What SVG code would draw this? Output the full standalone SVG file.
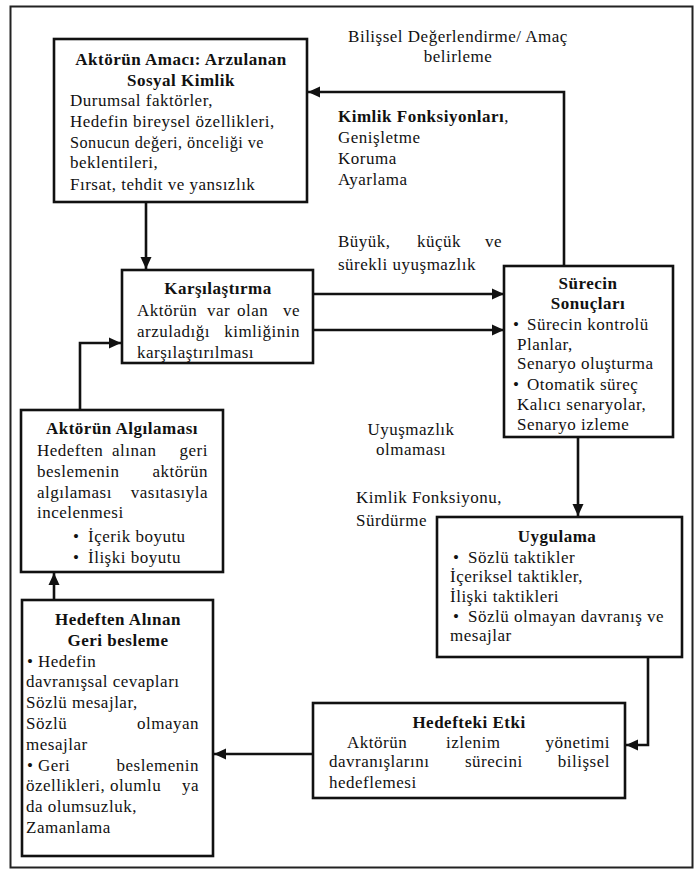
<svg xmlns="http://www.w3.org/2000/svg" width="696" height="869" viewBox="0 0 696 869">
<style>
.t{font-family:'Liberation Serif','Times New Roman',Tinos,'DejaVu Serif',serif;font-size:17px;letter-spacing:0.5px;fill:#111}
.b{font-weight:bold}
.c{text-anchor:middle}
.e{text-anchor:end}
.box{fill:#fff;stroke:#111;stroke-width:2.6}
.ln{fill:none;stroke:#111;stroke-width:2.6}
</style>
<defs>
<marker id="ah" markerUnits="userSpaceOnUse" markerWidth="13" markerHeight="13" refX="12" refY="6" orient="auto">
<path d="M0,0.5 L12,6 L0,11.5 z" fill="#111"/>
</marker>
</defs>
<rect x="0" y="0" width="696" height="869" fill="#fff"/>
<rect x="10.5" y="6.5" width="682" height="861" fill="none" stroke="#222" stroke-width="2"/>

<g id="connectors">
<path class="ln" d="M564,266 V92 H308" marker-end="url(#ah)"/>
<path class="ln" d="M146,202 V269" marker-end="url(#ah)"/>
<path class="ln" d="M313,294 H504" marker-end="url(#ah)"/>
<path class="ln" d="M313,330 H504" marker-end="url(#ah)"/>
<path class="ln" d="M80,410 V343 H121" marker-end="url(#ah)"/>
<path class="ln" d="M54,600 V573" marker-end="url(#ah)"/>
<path class="ln" d="M578,437 V516" marker-end="url(#ah)"/>
<path class="ln" d="M648,657 V745 H626" marker-end="url(#ah)"/>
<path class="ln" d="M313,754 H214" marker-end="url(#ah)"/>
</g>

<g id="labels">
<text class="t c" x="458" y="42">Bilişsel Değerlendirme/ Amaç</text>
<text class="t c" x="458" y="62">belirleme</text>
<text class="t" x="338" y="122"><tspan class="b">Kimlik Fonksiyonları</tspan>,</text>
<text class="t" x="338" y="143">Genişletme</text>
<text class="t" x="338" y="164">Koruma</text>
<text class="t" x="338" y="185">Ayarlama</text>
<text class="t" x="338" y="247">Büyük,</text>
<text class="t" x="417" y="247">küçük</text>
<text class="t e" x="502" y="247">ve</text>
<text class="t" x="338" y="270">sürekli uyuşmazlık</text>
<text class="t c" x="411" y="435">Uyuşmazlık</text>
<text class="t c" x="411" y="455">olmaması</text>
<text class="t" x="356" y="503">Kimlik Fonksiyonu,</text>
<text class="t" x="356" y="526">Sürdürme</text>
</g>

<g id="amac">
<rect class="box" x="54" y="39" width="253" height="163"/>
<text class="t b c" x="181" y="65">Aktörün Amacı: Arzulanan</text>
<text class="t b c" x="181" y="86">Sosyal Kimlik</text>
<text class="t" x="70" y="106">Durumsal faktörler,</text>
<text class="t" x="70" y="127">Hedefin bireysel özellikleri,</text>
<text class="t" x="70" y="148" textLength="194" lengthAdjust="spacingAndGlyphs">Sonucun değeri, önceliği ve</text>
<text class="t" x="70" y="168">beklentileri,</text>
<text class="t" x="70" y="190">Fırsat, tehdit ve yansızlık</text>
</g>

<g id="karsilastirma">
<rect class="box" x="122" y="270" width="191" height="93"/>
<text class="t b c" x="218" y="294">Karşılaştırma</text>
<text class="t" x="137" y="316">Aktörün</text>
<text class="t" x="207" y="316">var</text>
<text class="t" x="237" y="316">olan</text>
<text class="t e" x="300" y="316">ve</text>
<text class="t" x="137" y="337">arzuladığı</text>
<text class="t e" x="300" y="337">kimliğinin</text>
<text class="t" x="137" y="358">karşılaştırılması</text>
</g>

<g id="surecin">
<rect class="box" x="504" y="266" width="169" height="171"/>
<text class="t b c" x="588" y="289">Sürecin</text>
<text class="t b c" x="588" y="309">Sonuçları</text>
<text class="t" x="513" y="330">•</text>
<text class="t" x="527" y="330">Sürecin kontrolü</text>
<text class="t" x="517" y="350">Planlar,</text>
<text class="t" x="517" y="369">Senaryo oluşturma</text>
<text class="t" x="513" y="390">•</text>
<text class="t" x="527" y="390">Otomatik süreç</text>
<text class="t" x="517" y="410">Kalıcı senaryolar,</text>
<text class="t" x="517" y="430">Senaryo izleme</text>
</g>

<g id="algilama">
<rect class="box" x="21" y="410" width="202" height="162"/>
<text class="t b c" x="122" y="434">Aktörün Algılaması</text>
<text class="t" x="37" y="456">Hedeften</text>
<text class="t" x="112" y="456">alınan</text>
<text class="t e" x="208" y="456">geri</text>
<text class="t" x="37" y="477">beslemenin</text>
<text class="t e" x="208" y="477">aktörün</text>
<text class="t" x="37" y="498">algılaması</text>
<text class="t e" x="208" y="498">vasıtasıyla</text>
<text class="t" x="37" y="518">incelenmesi</text>
<text class="t" x="73" y="542">•</text>
<text class="t" x="88" y="542">İçerik boyutu</text>
<text class="t" x="73" y="563">•</text>
<text class="t" x="88" y="563">İlişki boyutu</text>
</g>

<g id="uygulama">
<rect class="box" x="437" y="517" width="245" height="140"/>
<text class="t b c" x="557" y="542">Uygulama</text>
<text class="t" x="453" y="563">•</text>
<text class="t" x="468" y="563">Sözlü taktikler</text>
<text class="t" x="450" y="582">İçeriksel taktikler,</text>
<text class="t" x="450" y="602">İlişki taktikleri</text>
<text class="t" x="453" y="622">•</text>
<text class="t" x="468" y="622">Sözlü olmayan davranış ve</text>
<text class="t" x="450" y="641">mesajlar</text>
</g>

<g id="hedefteki">
<rect class="box" x="313" y="703" width="312" height="95"/>
<text class="t b c" x="469" y="728">Hedefteki Etki</text>
<text class="t" x="347" y="748">Aktörün</text>
<text class="t" x="446" y="748">izlenim</text>
<text class="t e" x="610" y="748">yönetimi</text>
<text class="t" x="329" y="767">davranışlarını</text>
<text class="t" x="465" y="767">sürecini</text>
<text class="t e" x="610" y="767">bilişsel</text>
<text class="t" x="329" y="788">hedeflemesi</text>
</g>

<g id="geribesleme">
<rect class="box" x="22" y="600" width="191" height="256"/>
<text class="t b c" x="118" y="625">Hedeften Alınan</text>
<text class="t b c" x="118" y="646">Geri besleme</text>
<text class="t" x="27" y="667">•</text>
<text class="t" x="38" y="667">Hedefin</text>
<text class="t" x="26" y="687">davranışsal cevapları</text>
<text class="t" x="26" y="708">Sözlü mesajlar,</text>
<text class="t" x="26" y="729">Sözlü</text>
<text class="t e" x="199" y="729">olmayan</text>
<text class="t" x="26" y="750">mesajlar</text>
<text class="t" x="27" y="771">•</text>
<text class="t" x="38" y="771">Geri</text>
<text class="t e" x="199" y="771">beslemenin</text>
<text class="t" x="26" y="791">özellikleri,</text>
<text class="t" x="110" y="791">olumlu</text>
<text class="t e" x="199" y="791">ya</text>
<text class="t" x="26" y="812">da olumsuzluk,</text>
<text class="t" x="26" y="833">Zamanlama</text>
</g>
</svg>
